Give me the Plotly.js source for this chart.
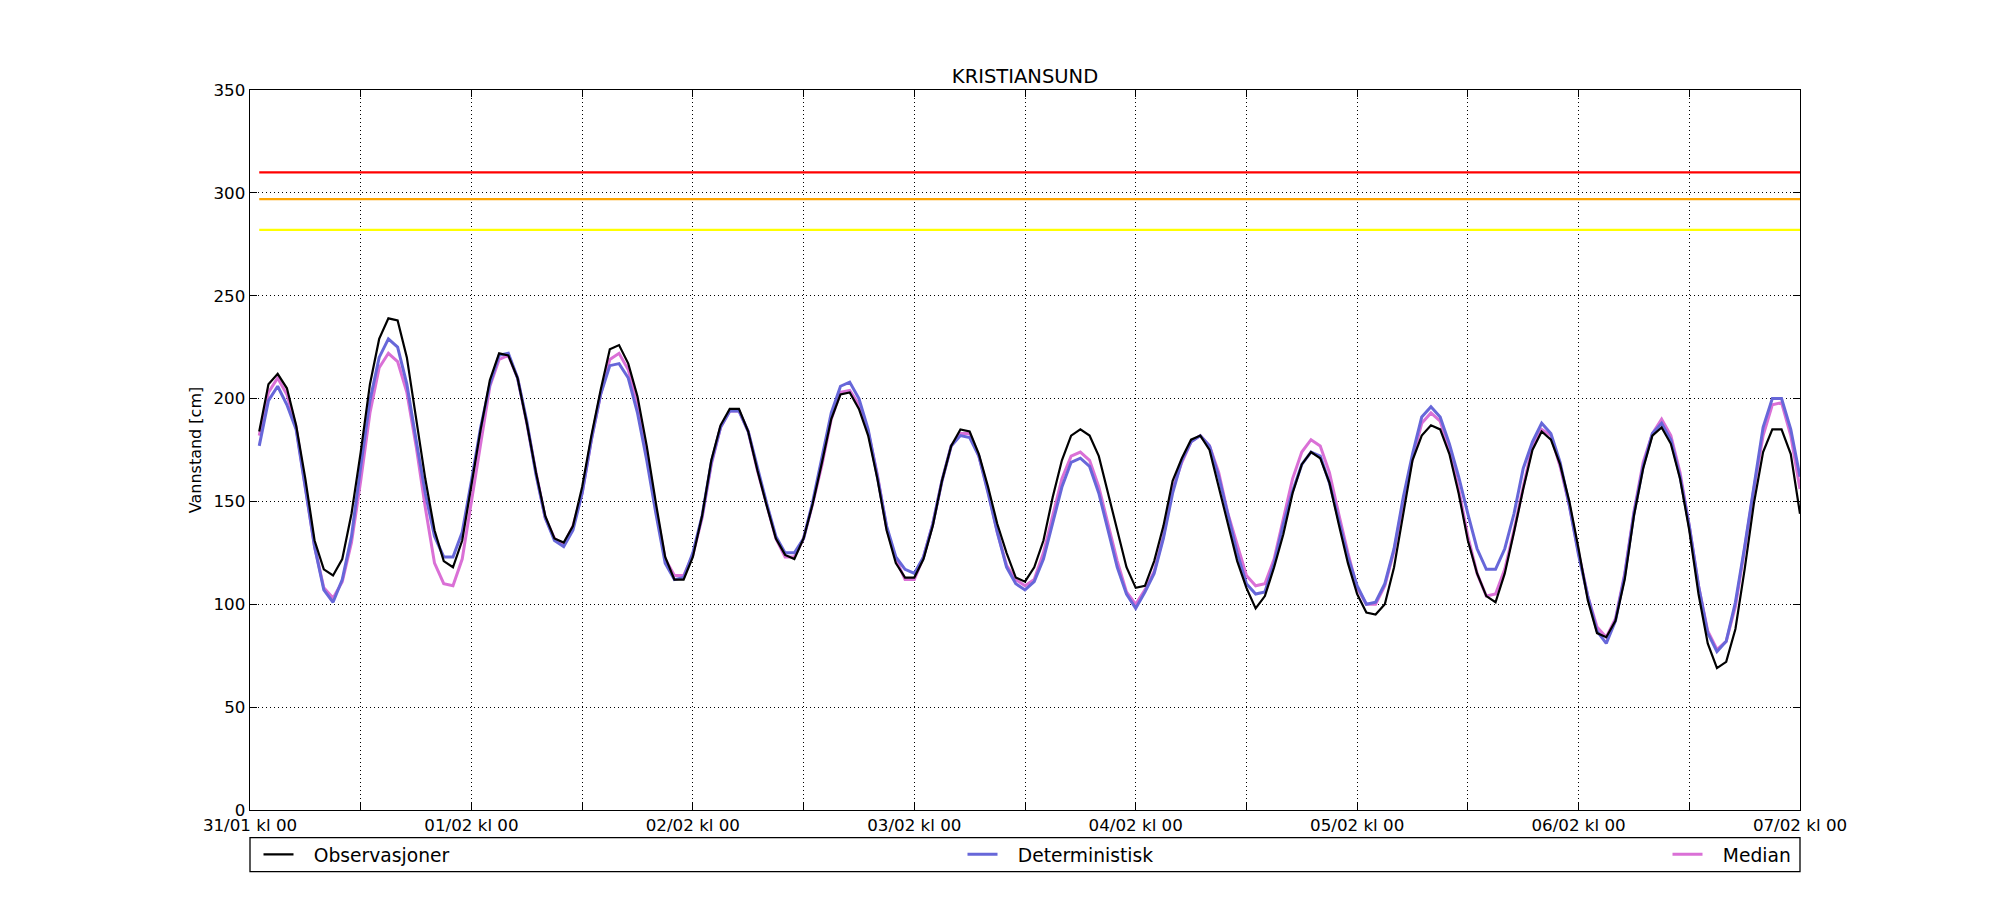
<!DOCTYPE html>
<html>
<head>
<meta charset="utf-8">
<script src="https://cdn.plot.ly/plotly-3.0.1.min.js"></script>
<style>
  html, body { margin: 0; padding: 0; background: #fff; }
  #plotly { width: 2000px; height: 900px; }
</style>
</head>
<body>
<div id="plotly"></div>
<script>
// hourly values from 31/01 kl 01 to 07/02 kl 00
var observasjoner = [
  184, 207, 212, 205, 187, 161, 131, 117, 114, 122, 144, 174, 207, 229, 239, 238, 220, 190, 161, 136, 121, 118, 131, 158,
  185, 209, 222, 221, 210, 188, 164, 143, 132, 130, 138, 157, 182, 204, 224, 226, 217, 201, 177, 149, 123, 112, 112, 123,
  143, 170, 187, 195, 195, 184, 165, 148, 132, 124, 122, 132, 149, 169, 190, 202, 203, 195, 182, 161, 136, 120, 113, 113,
  122, 138, 160, 177, 185, 184, 173, 157, 139, 125, 113, 111, 118, 131, 152, 170, 182, 185, 182, 172, 154, 136, 118, 108,
  109, 121, 138, 160, 171, 180, 182, 175, 157, 138, 121, 108, 98, 104, 118, 134, 154, 168, 174, 171, 159, 139, 120, 105,
  96, 95, 100, 118, 143, 170, 182, 187, 185, 173, 154, 131, 115, 104, 101, 115, 135, 156, 175, 184, 180, 168, 150, 127,
  102, 86, 84, 92, 112, 143, 166, 182, 186, 178, 161, 136, 105, 81, 69, 72, 88, 117, 149, 174, 185, 185, 173, 144
];

var deterministisk = [
  177, 199, 206, 197, 185, 157, 128, 107, 101, 112, 133, 167, 199, 220, 229, 225, 207, 180, 154, 133, 123, 123, 135, 160,
  186, 207, 221, 222, 210, 189, 163, 142, 131, 128, 136, 154, 180, 202, 216, 217, 210, 193, 170, 144, 120, 112, 113, 125,
  143, 169, 186, 194, 194, 184, 166, 149, 133, 125, 125, 132, 150, 171, 193, 206, 208, 200, 185, 162, 138, 123, 117, 115,
  123, 139, 160, 177, 182, 181, 172, 154, 135, 118, 110, 107, 111, 122, 139, 157, 169, 171, 167, 154, 136, 118, 105, 98,
  106, 115, 132, 154, 170, 179, 182, 177, 162, 143, 125, 110, 105, 106, 120, 139, 155, 168, 174, 172, 159, 141, 123, 109,
  100, 101, 110, 127, 152, 173, 191, 196, 191, 178, 162, 144, 127, 117, 117, 127, 144, 166, 179, 188, 183, 169, 148, 124,
  104, 87, 81, 92, 114, 144, 167, 183, 188, 180, 162, 138, 109, 86, 77, 82, 101, 128, 158, 186, 200, 200, 185, 162
];

var median = [
  182, 203, 210, 202, 186, 157, 128, 108, 103, 111, 130, 160, 193, 215, 222, 218, 203, 177, 147, 120, 110, 109, 122, 150,
  179, 206, 219, 221, 210, 188, 164, 142, 132, 129, 138, 154, 180, 202, 219, 222, 214, 198, 174, 146, 122, 114, 114, 124,
  142, 168, 186, 194, 194, 184, 165, 148, 132, 123, 123, 132, 149, 168, 190, 203, 204, 197, 184, 163, 137, 122, 112, 112,
  123, 139, 160, 177, 183, 183, 172, 155, 135, 119, 112, 109, 112, 125, 143, 161, 172, 174, 170, 157, 139, 121, 106, 100,
  107, 116, 133, 156, 169, 179, 182, 177, 164, 144, 129, 114, 109, 110, 122, 141, 161, 174, 180, 177, 164, 144, 125, 108,
  100, 100, 109, 126, 150, 171, 188, 193, 189, 175, 156, 133, 115, 104, 105, 117, 136, 157, 177, 185, 182, 167, 148, 125,
  104, 89, 84, 93, 115, 145, 169, 183, 190, 182, 164, 138, 109, 87, 78, 82, 99, 127, 156, 182, 197, 198, 182, 156
];

var terskler = [310, 297, 282];
var tersklerFarge = ['#ff0000', '#ffa500', '#ffff00'];

var tickTimer = [0, 24, 48, 72, 96, 120, 144, 168];
var tickTekst = ['31/01 kl 00', '01/02 kl 00', '02/02 kl 00', '03/02 kl 00',
  '04/02 kl 00', '05/02 kl 00', '06/02 kl 00', '07/02 kl 00'];

var timer = [];
for (var i = 0; i < observasjoner.length; i++) {
  timer.push(i + 1);
}

var fontFamily = 'DejaVu Sans, sans-serif';
// extra gap between legend line and text, like matplotlib
var gap = '\u2002\u00a0';

var data = [];
terskler.forEach(function(verdi, k) {
  data.push({
    x: [timer[0], timer[timer.length - 1]],
    y: [verdi, verdi],
    mode: 'lines',
    line: { color: tersklerFarge[k], width: 2.2 },
    showlegend: false,
    hoverinfo: 'skip',
    type: 'scatter'
  });
});

data.push({
  x: timer,
  y: median,
  name: gap + 'Median',
  mode: 'lines',
  line: { color: '#da70d6', width: 3 },
  legend: 'legend3',
  type: 'scatter'
});
data.push({
  x: timer,
  y: deterministisk,
  name: gap + 'Deterministisk',
  mode: 'lines',
  line: { color: '#6767d9', width: 3 },
  legend: 'legend2',
  type: 'scatter'
});
data.push({
  x: timer,
  y: observasjoner,
  name: gap + 'Observasjoner',
  mode: 'lines',
  line: { color: '#000000', width: 2.2 },
  legend: 'legend',
  type: 'scatter'
});

var legendBase = {
  orientation: 'h',
  yanchor: 'middle',
  y: -0.0621,
  xanchor: 'left',
  itemwidth: 30,
  bgcolor: 'rgba(0,0,0,0)',
  borderwidth: 0,
  font: { family: fontFamily, size: 18.7, color: '#000' }
};

var layout = {
  width: 2000,
  height: 900,
  margin: { l: 250, r: 200, t: 90, b: 90 },
  paper_bgcolor: '#fff',
  plot_bgcolor: '#fff',
  font: { family: fontFamily, size: 16.7, color: '#000' },
  title: {
    text: 'KRISTIANSUND',
    font: { family: fontFamily, size: 19.5, color: '#000' },
    x: 0.5,
    xref: 'paper',
    y: 1,
    yref: 'paper',
    yanchor: 'bottom',
    pad: { b: 7 }
  },
  xaxis: {
    range: [0, 168],
    tickmode: 'array',
    tickvals: tickTimer,
    ticktext: tickTekst,
    ticks: 'inside',
    ticklen: 7,
    tickcolor: '#000',
    showline: true,
    linecolor: '#000',
    linewidth: 1.3,
    mirror: 'ticks',
    showgrid: true,
    gridcolor: '#000',
    gridwidth: 1,
    griddash: '1px,3px',
    zeroline: false,
    minor: {
      dtick: 12,
      tick0: 0,
      ticks: 'inside',
      ticklen: 7,
      tickcolor: '#000',
      showgrid: true,
      gridcolor: '#000',
      gridwidth: 1,
      griddash: '1px,3px'
    },
    tickfont: { family: fontFamily, size: 16.7, color: '#000' }
  },
  yaxis: {
    range: [0, 350],
    dtick: 50,
    tick0: 0,
    ticks: 'inside',
    ticklen: 7,
    tickcolor: '#000',
    showline: true,
    linecolor: '#000',
    linewidth: 1.3,
    mirror: 'ticks',
    showgrid: true,
    gridcolor: '#000',
    gridwidth: 1,
    griddash: '1px,3px',
    zeroline: false,
    tickfont: { family: fontFamily, size: 16.7, color: '#000' },
    title: {
      text: 'Vannstand [cm]',
      font: { family: fontFamily, size: 16, color: '#000' },
      standoff: 8
    }
  },
  legend: Object.assign({}, legendBase, { x: 8.5 / 1550 }),
  legend2: Object.assign({}, legendBase, { x: 712.5 / 1550 }),
  legend3: Object.assign({}, legendBase, { x: 1417.5 / 1550 }),
  shapes: [{
    type: 'rect',
    xref: 'paper',
    yref: 'paper',
    x0: 0,
    x1: 1,
    y0: -0.0857,
    y1: -0.0385,
    line: { color: '#000', width: 1.3 },
    fillcolor: 'rgba(0,0,0,0)'
  }],
  showlegend: true
};

var config = {
  staticPlot: true
};

Plotly.newPlot('plotly', data, layout, config);
</script>
</body>
</html>
